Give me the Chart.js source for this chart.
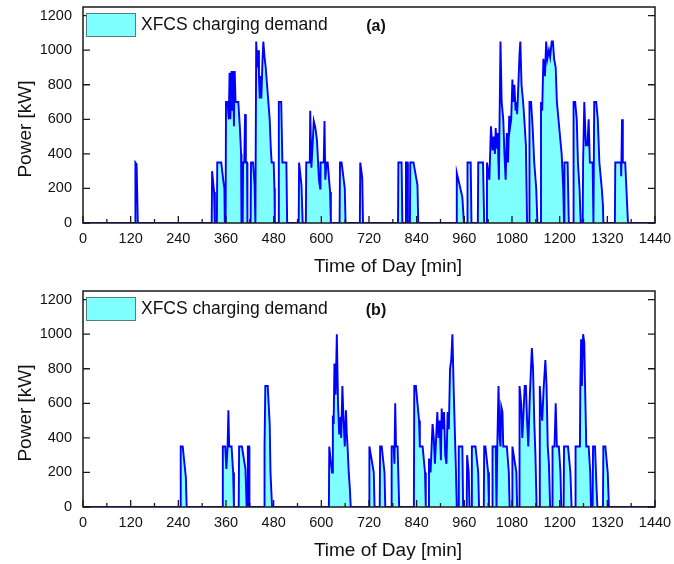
<!DOCTYPE html>
<html>
<head>
<meta charset="utf-8">
<script src="https://cdn.jsdelivr.net/npm/chart.js@4.4.1/dist/chart.umd.min.js"></script>
<style>
html, body { margin: 0; padding: 0; background: #fff; }
.panel { position: absolute; left: 0; width: 674px; height: 280px; }
#pA { top: 0; }
#pB { top: 284px; }
</style>
</head>
<body>
<div class="panel" id="pA"><canvas id="chartA" width="674" height="280"></canvas></div>
<div class="panel" id="pB"><canvas id="chartB" width="674" height="280"></canvas></div>
<script>
const seriesName = 'XFCS charging demand';
const xTitle = 'Time of Day [min]';
const yTitle = 'Power [kW]';
const panelTags = ['(a)', '(b)'];
const xMin = 0, xMax = 1440, xStep = 60, xLabelEvery = 120;
const yMin = 0, yMax = 1250, yStep = 100, yLabelEvery = 200;

// [time of day (min), power (kW)]
const demandA = [
    [0, 0], [131, 0], [132, 350], [135, 340], [138, 0],
    [324, 0], [325, 300], [330, 180], [332, 0],
    [337, 0], [338, 350], [348, 350], [353, 250], [356, 200], [357, 0], [359, 0],
    [360, 700], [364, 700], [367, 600], [369, 870], [371, 600], [374, 880], [376, 650],
    [378, 880], [380, 560], [382, 880], [384, 700], [391, 700], [395, 550], [398, 400], [399, 0],
    [402, 0], [403, 350], [406, 350], [408, 630], [410, 350], [413, 350], [414, 0],
    [422, 0], [423, 350], [428, 350], [432, 220], [434, 0], [435, 0],
    [436, 1050], [439, 900], [441, 1000], [443, 850], [445, 720], [447, 850], [449, 720],
    [452, 950], [454, 1050], [457, 960], [460, 900], [465, 750], [470, 600], [473, 420],
    [475, 350], [480, 350], [482, 200], [483, 0],
    [492, 0], [493, 700], [499, 700], [502, 350], [512, 350], [514, 0],
    [543, 0], [544, 350], [550, 220], [553, 0],
    [561, 0], [562, 350], [571, 350], [572, 650], [575, 320], [581, 590], [585, 550],
    [589, 480], [594, 250], [597, 200], [598, 350], [606, 350], [608, 590], [610, 250],
    [613, 350], [616, 350], [622, 180], [624, 0],
    [646, 0], [647, 350], [651, 350], [659, 200], [661, 0],
    [697, 0], [698, 350], [703, 260], [705, 0],
    [793, 0], [794, 350], [802, 350], [804, 0],
    [812, 0], [813, 350], [817, 350], [818, 0],
    [823, 0], [824, 350], [832, 350], [842, 220], [844, 0],
    [940, 0], [941, 290], [955, 150], [959, 0],
    [967, 0], [968, 350], [976, 350], [978, 0],
    [994, 0], [995, 350], [1007, 350], [1010, 0],
    [1016, 0], [1017, 350], [1020, 300], [1023, 250], [1027, 560], [1031, 420], [1034, 500],
    [1037, 400], [1039, 550], [1041, 430], [1044, 520], [1047, 250], [1051, 1050], [1054, 700],
    [1058, 600], [1061, 400], [1064, 250], [1067, 520], [1070, 350], [1073, 620], [1075, 550],
    [1078, 600], [1081, 830], [1083, 700], [1086, 800], [1089, 650], [1091, 700], [1093, 630],
    [1096, 800], [1099, 980], [1101, 1050], [1104, 800], [1108, 700], [1111, 600], [1115, 450], [1118, 0],
    [1123, 0], [1124, 700], [1128, 700], [1132, 550], [1136, 350], [1141, 200], [1144, 0],
    [1152, 0], [1153, 700], [1156, 650], [1159, 950], [1163, 850], [1166, 1050], [1169, 950],
    [1173, 1000], [1176, 960], [1180, 1050], [1183, 1050], [1186, 950], [1190, 900], [1193, 700],
    [1197, 600], [1201, 500], [1205, 400], [1209, 200], [1211, 0],
    [1212, 350], [1220, 350], [1223, 0],
    [1234, 0], [1235, 700], [1239, 700], [1243, 600], [1246, 350], [1250, 200], [1253, 0],
    [1258, 0], [1259, 350], [1261, 350], [1262, 700], [1266, 450], [1270, 450], [1273, 600],
    [1276, 350], [1283, 350], [1285, 0],
    [1286, 0], [1287, 700], [1292, 700], [1296, 600], [1300, 350], [1306, 200], [1309, 100], [1310, 0],
    [1339, 0], [1340, 350], [1354, 350], [1355, 270], [1357, 600], [1359, 350], [1365, 350], [1372, 0],
    [1440, 0]
];

// [time of day (min), power (kW)]
const demandB = [
    [0, 0], [245, 0], [246, 350], [251, 350], [259, 170], [261, 0],
    [351, 0], [352, 350], [358, 350], [361, 220], [364, 350], [366, 560], [368, 350],
    [374, 350], [378, 200], [380, 0],
    [392, 0], [393, 350], [400, 350], [409, 220], [412, 0],
    [414, 0], [415, 350], [418, 350], [419, 0],
    [456, 0], [457, 350], [459, 700], [465, 700], [470, 480], [472, 200], [476, 0],
    [619, 0], [620, 350], [624, 260], [627, 200], [629, 530], [631, 480], [633, 830],
    [636, 650], [639, 1000], [642, 600], [645, 420], [647, 520], [650, 400], [653, 700],
    [656, 500], [659, 350], [662, 560], [664, 430], [666, 350], [669, 200], [672, 100], [674, 0],
    [720, 0], [721, 350], [732, 200], [734, 0],
    [747, 0], [748, 350], [752, 350], [759, 200], [761, 0],
    [776, 0], [777, 350], [782, 350], [784, 250], [786, 600], [788, 350], [792, 350], [796, 0],
    [833, 0], [834, 700], [838, 700], [846, 500], [848, 350], [855, 350], [861, 200], [863, 0],
    [870, 0], [871, 280], [875, 200], [880, 480], [883, 400], [886, 250], [892, 550],
    [895, 400], [898, 500], [901, 270], [903, 570], [906, 450], [909, 550], [912, 300],
    [915, 250], [918, 550], [921, 450], [924, 800], [927, 850], [930, 1000], [933, 700],
    [936, 450], [939, 200], [941, 0],
    [945, 0], [946, 350], [955, 350], [957, 0],
    [966, 0], [967, 300], [971, 200], [973, 0],
    [978, 0], [979, 350], [988, 350], [995, 200], [997, 0],
    [1009, 0], [1010, 350], [1013, 350], [1020, 200], [1022, 0],
    [1030, 0], [1031, 350], [1039, 350], [1041, 0],
    [1042, 0], [1043, 350], [1046, 700], [1049, 400], [1051, 350], [1053, 580], [1056, 550],
    [1058, 350], [1067, 350], [1072, 200], [1074, 0],
    [1080, 0], [1081, 350], [1091, 200], [1093, 0],
    [1098, 0], [1099, 700], [1103, 600], [1106, 400], [1109, 550], [1112, 700], [1115, 700],
    [1118, 500], [1121, 350], [1125, 650], [1130, 920], [1133, 800], [1136, 500], [1139, 300], [1142, 0],
    [1149, 0], [1150, 700], [1153, 580], [1156, 500], [1160, 700], [1164, 850], [1167, 700],
    [1170, 350], [1173, 250], [1176, 0],
    [1181, 0], [1182, 350], [1187, 350], [1190, 600], [1193, 350], [1198, 350], [1202, 200], [1204, 0],
    [1210, 0], [1211, 350], [1221, 350], [1227, 200], [1230, 0],
    [1239, 0], [1240, 350], [1251, 350], [1252, 700], [1254, 970], [1256, 700], [1259, 1000],
    [1262, 950], [1264, 700], [1267, 350], [1273, 350], [1277, 200], [1279, 0],
    [1283, 0], [1284, 350], [1289, 350], [1293, 100], [1295, 0],
    [1309, 0], [1310, 350], [1315, 350], [1321, 200], [1324, 0],
    [1440, 0]
];

const FONT = "'Liberation Sans', Arial, sans-serif";
Chart.defaults.font.family = FONT;
Chart.defaults.color = '#111';

// frame with inward ticks, legend box, panel tag and axis titles
const decor = {
    id: 'decor',
    afterDatasetsDraw(chart, args, opts) {
        const { ctx, chartArea: a, scales: { x, y } } = chart;
        ctx.save();
        ctx.strokeStyle = '#1a1a1a';
        ctx.lineWidth = 1.3;
        ctx.beginPath();
        x.ticks.forEach(t => {
            const px = x.getPixelForValue(t.value);
            const len = t.value % xLabelEvery === 0 ? 7 : 4;
            ctx.moveTo(px, a.bottom);
            ctx.lineTo(px, a.bottom - len);
        });
        y.ticks.forEach(t => {
            const py = y.getPixelForValue(t.value);
            const len = t.value % yLabelEvery === 0 ? 7 : 4;
            ctx.moveTo(a.left, py);
            ctx.lineTo(a.left + len, py);
            ctx.moveTo(a.right, py);
            ctx.lineTo(a.right - len, py);
        });
        ctx.stroke();
        ctx.lineWidth = 1.5;
        ctx.strokeRect(a.left, a.top, a.right - a.left, a.bottom - a.top);

        const ds = chart.data.datasets[0];
        ctx.fillStyle = ds.backgroundColor;
        ctx.fillRect(86, 13, 50, 24);
        ctx.strokeStyle = '#4f7f7f';
        ctx.lineWidth = 1;
        ctx.strokeRect(86.5, 13.5, 49, 23);
        ctx.fillStyle = '#111';
        ctx.font = '17.5px ' + FONT;
        ctx.textAlign = 'left';
        ctx.textBaseline = 'middle';
        ctx.fillText(ds.label, 141, 25.5);

        ctx.font = 'bold 16px ' + FONT;
        ctx.textAlign = 'center';
        ctx.fillText(opts.tag, 376, 27);

        ctx.font = '19px ' + FONT;
        ctx.textBaseline = 'alphabetic';
        ctx.fillText(xTitle, 388, 272);
        ctx.translate(31, 129);
        ctx.rotate(-Math.PI / 2);
        ctx.fillText(yTitle, 0, 0);
        ctx.restore();
    }
};

// keep the plot box where the reference has it
function noPad(s) {
    s.paddingTop = 0;
    s.paddingBottom = 0;
    s.paddingLeft = 0;
    s.paddingRight = 0;
}

function makeChart(id, points, tag) {
    new Chart(document.getElementById(id), {
        type: 'line',
        data: {
            datasets: [{
                label: seriesName,
                data: points.map(p => ({ x: p[0], y: p[1] })),
                borderColor: '#0000ff',
                backgroundColor: '#80ffff',
                borderWidth: 1.9,
                fill: 'origin',
                pointRadius: 0,
                tension: 0
            }]
        },
        options: {
            responsive: false,
            animation: false,
            devicePixelRatio: 1,
            layout: { padding: { left: 0, right: 19, top: 7, bottom: 0 } },
            plugins: {
                legend: { display: false },
                tooltip: { enabled: false },
                decor: { tag: tag }
            },
            scales: {
                x: {
                    type: 'linear',
                    min: xMin,
                    max: xMax,
                    grid: { display: false, drawTicks: false },
                    border: { display: false },
                    ticks: {
                        stepSize: xStep,
                        autoSkip: false,
                        maxRotation: 0,
                        minRotation: 0,
                        padding: 7,
                        font: { size: 14.5 },
                        callback: v => v % xLabelEvery === 0 ? v : ''
                    },
                    afterFit: s => { s.height = 57; noPad(s); }
                },
                y: {
                    min: yMin,
                    max: yMax,
                    grid: { display: false, drawTicks: false },
                    border: { display: false },
                    ticks: {
                        stepSize: yStep,
                        includeBounds: false,
                        padding: 11,
                        font: { size: 14.5 },
                        callback: v => v % yLabelEvery === 0 ? v : ''
                    },
                    afterFit: s => { s.width = 83; noPad(s); }
                }
            }
        },
        plugins: [decor]
    });
}

makeChart('chartA', demandA, panelTags[0]);
makeChart('chartB', demandB, panelTags[1]);
</script>
</body>
</html>
